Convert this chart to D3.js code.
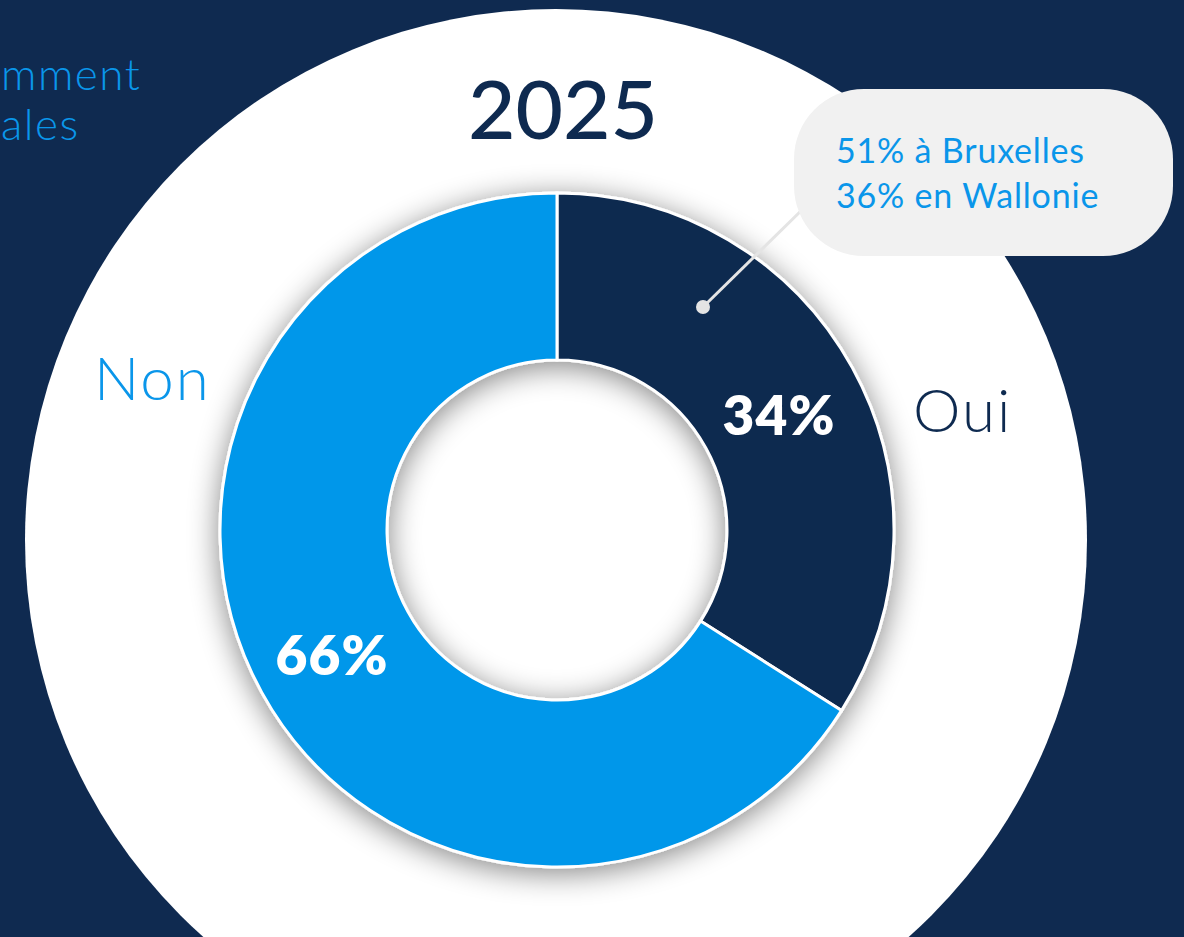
<!DOCTYPE html>
<html>
<head>
<meta charset="utf-8">
<script src="https://cdn.jsdelivr.net/npm/d3@7"></script>
<style>
  html, body { margin: 0; padding: 0; background: #0f2a50; }
  svg { display: block; }
  text { font-family: Lato, "Open Sans", sans-serif; }
</style>
</head>
<body>
<svg width="1184" height="937"></svg>
<script>
const categories = ['Oui', 'Non']
const values = [34, 66]
const colors = ['#0e2a50', '#0097ea']
const title = '2025'
const calloutLines = ['51% à Bruxelles', '36% en Wallonie']
const sideText = ['mment', 'ales']

const width = 1184
const height = 937
const cx = 557
const cy = 530
const outerR = 337
const innerR = 170

const svg = d3.select('svg')

const defs = svg.append('defs')
defs.append('filter')
  .attr('id', 'shadow')
  .attr('x', '-30%').attr('y', '-30%')
  .attr('width', '160%').attr('height', '160%')
  .append('feDropShadow')
  .attr('dx', 0).attr('dy', 5)
  .attr('stdDeviation', 15)
  .attr('flood-color', '#000')
  .attr('flood-opacity', 0.48)

// background
svg.append('rect')
  .attr('width', width).attr('height', height)
  .attr('fill', '#0f2a50')

// text fragments on the left (rest of the sentence is off the slide)
svg.selectAll('.side')
  .data(sideText)
  .join('text')
  .attr('class', 'side')
  .attr('x', 1)
  .attr('y', (d, i) => 90 + i * 50)
  .attr('font-size', 44)
  .attr('font-weight', 300)
  .attr('letter-spacing', 1.5)
  .attr('fill', '#0a96ea')
  .text(d => d)

// big white disc
svg.append('circle')
  .attr('cx', 556).attr('cy', 540)
  .attr('r', 531)
  .attr('fill', '#fff')

svg.append('text')
  .attr('x', 563).attr('y', 139)
  .attr('text-anchor', 'middle')
  .attr('font-size', 82)
  .attr('font-weight', 500)
  .attr('fill', '#0e2a50')
  .text(title)

const pie = d3.pie().sort(null).value(d => d)
const arcs = pie(values)
const arc = d3.arc().innerRadius(innerR).outerRadius(outerR)

const g = svg.append('g').attr('transform', `translate(${cx},${cy})`)

g.append('g')
  .attr('filter', 'url(#shadow)')
  .selectAll('path')
  .data(arcs)
  .join('path')
  .attr('d', arc)
  .attr('fill', (d, i) => colors[i])
  .attr('stroke', '#fff')
  .attr('stroke-width', 3)

// value labels
const labelPos = [[222, -95], [-225, 145]]
g.selectAll('.val')
  .data(arcs)
  .join('text')
  .attr('class', 'val')
  .attr('x', (d, i) => labelPos[i][0])
  .attr('y', (d, i) => labelPos[i][1])
  .attr('text-anchor', 'middle')
  .attr('font-size', 55)
  .attr('font-weight', 800)
  .attr('letter-spacing', 1)
  .attr('fill', '#fff')
  .text(d => d.value + '%')

// category labels
g.append('text')
  .attr('x', 356).attr('y', -98)
  .attr('font-size', 60)
  .attr('font-weight', 300)
  .attr('letter-spacing', 2)
  .attr('fill', '#0e2a50')
  .text(categories[0])

g.append('text')
  .attr('x', -463).attr('y', -130)
  .attr('font-size', 60)
  .attr('font-weight', 300)
  .attr('letter-spacing', 2)
  .attr('fill', '#0a96ea')
  .text(categories[1])

// callout
const dot = [703, 307]
svg.append('line')
  .attr('x1', dot[0]).attr('y1', dot[1])
  .attr('x2', 808).attr('y2', 204)
  .attr('stroke', '#e4e4e4')
  .attr('stroke-width', 3)
svg.append('circle')
  .attr('cx', dot[0]).attr('cy', dot[1])
  .attr('r', 7)
  .attr('fill', '#e4e4e4')

svg.append('rect')
  .attr('x', 794).attr('y', 89)
  .attr('width', 379).attr('height', 167)
  .attr('rx', 70)
  .attr('fill', '#f1f1f1')

svg.selectAll('.call')
  .data(calloutLines)
  .join('text')
  .attr('class', 'call')
  .attr('x', 836)
  .attr('y', (d, i) => 163 + i * 45)
  .attr('font-size', 34)
  .attr('font-weight', 400)
  .attr('letter-spacing', 0.8)
  .attr('fill', '#0a96ea')
  .text(d => d)
</script>
</body>
</html>
